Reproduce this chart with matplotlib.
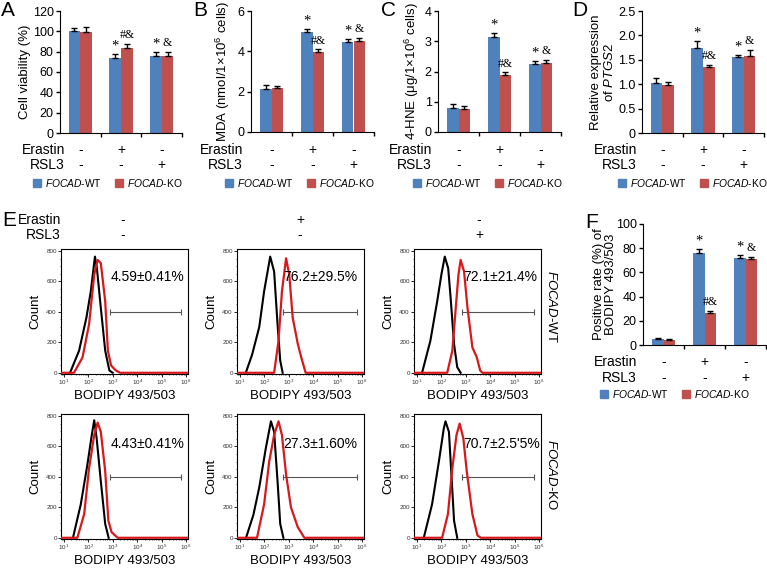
import matplotlib
matplotlib.use("Agg")
import matplotlib.pyplot as plt
from matplotlib.patches import Patch

plt.rcParams["font.family"] = ["Liberation Sans", "DejaVu Sans"]
plt.rcParams["mathtext.fontset"] = "custom"
plt.rcParams["mathtext.rm"] = "Liberation Sans"
plt.rcParams["mathtext.it"] = "Liberation Sans:italic"

W, H = 767, 569
BLUE = "#4F81BD"
RED = "#C0504D"

# conditions
erastin_signs = ["-", "+", "-"]
rsl3_signs = ["-", "-", "+"]
legend_labels = [r"$\it{FOCAD}$-WT", r"$\it{FOCAD}$-KO"]
marks_wt = ["", "*", "*"]
marks_ko = ["", "#&", "&"]

# A - cell viability
via_wt = [100.4, 73.6, 76.2]
via_wt_err = [3.3, 4.2, 3.3]
via_ko = [99.0, 83.4, 76.2]
via_ko_err = [5.0, 4.6, 3.8]

# B - MDA
mda_wt = [2.14, 4.94, 4.45]
mda_wt_err = [0.17, 0.15, 0.18]
mda_ko = [2.17, 3.99, 4.51]
mda_ko_err = [0.09, 0.11, 0.16]

# C - 4-HNE
hne_wt = [0.79, 3.13, 2.24]
hne_wt_err = [0.14, 0.13, 0.11]
hne_ko = [0.76, 1.88, 2.27]
hne_ko_err = [0.09, 0.09, 0.11]

# D - PTGS2
ptgs_wt = [1.02, 1.74, 1.55]
ptgs_wt_err = [0.10, 0.15, 0.04]
ptgs_ko = [0.99, 1.36, 1.57]
ptgs_ko_err = [0.05, 0.04, 0.13]

# F - BODIPY positive rate
pos_wt = [4.9, 75.9, 72.0]
pos_wt_err = [0.5, 3.6, 2.2]
pos_ko = [4.4, 26.8, 71.0]
pos_ko_err = [0.5, 1.7, 1.9]

# E - flow histograms, points as (log10 intensity, count)
wt_ctrl_black = [(1.25, 0), (1.62, 145), (1.92, 362), (2.10, 535), (2.27, 763), (2.35, 687),
                 (2.51, 427), (2.69, 145), (2.86, 15), (3.0, 0)]
wt_ctrl_red = [(0.88, 0), (1.41, 0), (1.76, 100), (2.03, 319), (2.24, 644), (2.38, 741), (2.51, 720),
               (2.69, 470), (2.80, 145), (2.93, 48), (3.13, 15), (3.3, 0), (6.08, 0)]
wt_era_black = [(1.24, 0), (1.5, 120), (1.79, 300), (1.99, 535), (2.24, 763), (2.40, 665),
                (2.54, 319), (2.65, 80), (2.75, 0)]
wt_era_red = [(0.88, 0), (2.40, 0), (2.58, 210), (2.72, 535), (2.89, 752), (3.02, 644), (3.16, 362),
              (3.37, 189), (3.51, 102), (3.69, 0), (6.08, 0)]
wt_rsl_black = [(1.21, 0), (1.55, 210), (1.83, 470), (2.0, 644), (2.14, 763), (2.28, 687),
                (2.38, 492), (2.52, 189), (2.65, 37), (2.79, 0)]
wt_rsl_red = [(0.88, 0), (2.24, 0), (2.45, 145), (2.59, 427), (2.70, 644), (2.79, 741), (2.93, 665),
              (3.07, 427), (3.27, 167), (3.45, 102), (3.59, 15), (3.68, 0), (6.08, 0)]
ko_ctrl_black = [(1.37, 0), (1.69, 220), (1.96, 480), (2.14, 675), (2.24, 772), (2.34, 653),
                 (2.51, 372), (2.69, 91), (2.83, 0)]
ko_ctrl_red = [(0.88, 0), (1.55, 0), (1.83, 156), (2.03, 458), (2.24, 675), (2.38, 757), (2.51, 696),
               (2.69, 437), (2.82, 112), (2.95, 37), (3.20, 0), (6.08, 0)]
ko_era_black = [(1.25, 0), (1.55, 150), (1.79, 330), (2.06, 588), (2.27, 765), (2.40, 696),
                (2.54, 372), (2.65, 91), (2.78, 0)]
ko_era_red = [(0.88, 0), (1.70, 0), (1.99, 220), (2.20, 502), (2.40, 675), (2.58, 765), (2.72, 675),
              (2.89, 415), (3.09, 199), (3.37, 69), (3.64, 0), (6.08, 0)]
ko_rsl_black = [(1.28, 0), (1.62, 220), (1.90, 502), (2.10, 718), (2.17, 765), (2.31, 696),
                (2.42, 393), (2.52, 112), (2.65, 0)]
ko_rsl_red = [(0.88, 0), (2.03, 0), (2.27, 156), (2.45, 458), (2.62, 675), (2.75, 750), (2.90, 653),
              (3.04, 437), (3.27, 156), (3.48, 15), (3.62, 0), (6.08, 0)]

pct_wt = ["4.59\u00b10.41%", "76.2\u00b129.5%", "72.1\u00b121.4%"]
pct_ko = ["4.43\u00b10.41%", "27.3\u00b11.60%", "70.7\u00b12.5'5%"]
gate_start = [2.9, 2.75, 2.85]
gate_end = 5.8
gate_level = 400


fig = plt.figure(figsize=(W / 100, H / 100), dpi=100)


def px_axes(l, t, r, b):
    return fig.add_axes([l / W, 1 - b / H, (r - l) / W, (b - t) / H])


def px_text(x, y, s, **kw):
    fig.text(x / W, 1 - y / H, s, **kw)


def bar_panel(box, wt, wt_err, ko, ko_err, ymax, yticks, yticklabels, ylabel, ylabel_x,
              lab_right, rows_y, legend_xy, letter, letter_xy):
    l, t, r, b = box
    ax = px_axes(l, t, r, b)
    x = list(range(3))
    bw = 0.29
    xw = [i - bw / 2 for i in x]
    xk = [i + bw / 2 for i in x]
    ax.bar(xw, wt, bw, color=BLUE, zorder=2)
    ax.bar(xk, ko, bw, color=RED, zorder=2)
    ax.errorbar(xw, wt, yerr=[[0] * 3, wt_err], fmt="none", ecolor="black",
                elinewidth=1, capsize=2.2, capthick=1, zorder=3)
    ax.errorbar(xk, ko, yerr=[[0] * 3, ko_err], fmt="none", ecolor="black",
                elinewidth=1, capsize=2.2, capthick=1, zorder=3)
    for i in x:
        if marks_wt[i]:
            ax.annotate(marks_wt[i], (xw[i], wt[i] + wt_err[i]), xytext=(0, 1),
                        textcoords="offset points", ha="center", va="bottom",
                        family="Liberation Serif", fontsize=10.5)
        if marks_ko[i]:
            ax.annotate(marks_ko[i], (xk[i], ko[i] + ko_err[i]), xytext=(0, 2),
                        textcoords="offset points", ha="center", va="bottom",
                        family="Liberation Serif", fontsize=8.5)
    ax.set_xlim(-0.5, 2.5)
    ax.set_ylim(0, ymax)
    ax.set_yticks(yticks)
    ax.set_yticklabels(yticklabels)
    ax.set_xticks([0.5, 1.5, 2.5])
    ax.set_xticklabels([])
    ax.tick_params(axis="both", direction="out", length=3, width=1, labelsize=9, pad=1.5)
    ax.spines["top"].set_visible(False)
    ax.spines["right"].set_visible(False)
    ax.set_ylabel(ylabel, fontsize=9.5, va="center", linespacing=1.1)
    ax.yaxis.set_label_coords(-(l - ylabel_x) / (r - l), 0.5)

    hpx = b - t
    tr = ax.get_xaxis_transform()
    for i in x:
        ax.text(i, -(rows_y[0] - b) / hpx, erastin_signs[i], transform=tr, ha="center",
                va="center", fontsize=10)
        ax.text(i, -(rows_y[1] - b) / hpx, rsl3_signs[i], transform=tr, ha="center",
                va="center", fontsize=10)
    px_text(lab_right, rows_y[0], "Erastin", ha="right", va="center", fontsize=10)
    px_text(lab_right, rows_y[1], "RSL3", ha="right", va="center", fontsize=10)

    handles = [Patch(color=BLUE), Patch(color=RED)]
    ax.legend(handles, legend_labels, ncol=2, loc="center left",
              bbox_to_anchor=(legend_xy[0] / W, 1 - legend_xy[1] / H),
              bbox_transform=fig.transFigure, frameon=False, fontsize=7.4,
              handlelength=0.8, handleheight=0.8, handletextpad=0.4,
              columnspacing=1.2, borderpad=0, borderaxespad=0)
    px_text(letter_xy[0], letter_xy[1], letter, ha="center", va="center", fontsize=15)
    return ax


bar_panel((60, 11, 182, 133), via_wt, via_wt_err, via_ko, via_ko_err, 120,
          [0, 20, 40, 60, 80, 100, 120], ["0", "20", "40", "60", "80", "100", "120"],
          "Cell viability (%)", 25, 65, (150, 165), (33, 183), "A", (8, 11))
bar_panel((251, 11, 374, 132), mda_wt, mda_wt_err, mda_ko, mda_ko_err, 6,
          [0, 2, 4, 6], ["0", "2", "4", "6"],
          r"MDA (nmol/1$\times$10$^6$ cells)", 223, 243, (150, 165), (225, 183), "B", (200, 11))
bar_panel((438, 11, 561, 132), hne_wt, hne_wt_err, hne_ko, hne_ko_err, 4,
          [0, 1, 2, 3, 4], ["0", "1", "2", "3", "4"],
          "4-HNE (\u03bcg/1$\\times$10$^6$ cells)", 412, 432, (150, 165), (413, 183), "C", (389, 11))
bar_panel((642, 11, 764, 133), ptgs_wt, ptgs_wt_err, ptgs_ko, ptgs_ko_err, 2.5,
          [0, 0.5, 1.0, 1.5, 2.0, 2.5], ["0", "0.5", "1.0", "1.5", "2.0", "2.5"],
          "Relative expression\nof $\\it{PTGS2}$", 603, 637, (150, 165), (618, 183), "D", (580, 11))
bar_panel((643, 224, 766, 345), pos_wt, pos_wt_err, pos_ko, pos_ko_err, 100,
          [0, 20, 40, 60, 80, 100], ["0", "20", "40", "60", "80", "100"],
          "Positive rate (%) of\nBODIPY 493/503", 605, 637, (362, 378), (600, 394), "F", (592, 222))

# E - histograms
px_text(9, 220, "E", ha="center", va="center", fontsize=15)
px_text(61, 220, "Erastin", ha="right", va="center", fontsize=10)
px_text(61, 235, "RSL3", ha="right", va="center", fontsize=10)

col_left = [61, 237, 414]
col_w = 127
rows = [(249, 374), (414, 539)]
curves = [[(wt_ctrl_black, wt_ctrl_red), (wt_era_black, wt_era_red), (wt_rsl_black, wt_rsl_red)],
          [(ko_ctrl_black, ko_ctrl_red), (ko_era_black, ko_era_red), (ko_rsl_black, ko_rsl_red)]]
pcts = [pct_wt, pct_ko]
pct_y = [630, 616]

for ri, (t, b) in enumerate(rows):
    for ci, l in enumerate(col_left):
        ax = px_axes(l, t, l + col_w, b)
        blk, red = curves[ri][ci]
        ax.plot([10 ** p[0] for p in blk], [p[1] for p in blk], color="black", lw=1.5, zorder=2)
        ax.plot([10 ** p[0] for p in red], [p[1] for p in red], color="#D7191C", lw=1.6, zorder=3)
        ax.plot([10 ** gate_start[ci], 10 ** gate_end], [gate_level, gate_level],
                color="#555555", lw=0.8, marker="|", markersize=4, markeredgewidth=0.8)
        ax.text(10 ** (gate_start[ci] + 0.03), pct_y[ri], pcts[ri][ci], ha="left", va="center",
                fontsize=10)
        ax.set_xscale("log")
        ax.set_xlim(10 ** 0.88, 10 ** 6.08)
        ax.set_ylim(-8, 813)
        ax.set_xticks([10 ** k for k in range(1, 7)])
        ax.set_yticks([0, 200, 400, 600, 800])
        ax.set_yticks(range(0, 801, 50), minor=True)
        ax.tick_params(axis="both", which="major", direction="out", length=2, width=0.6,
                       labelsize=4.5, pad=1, labelcolor="#333333")
        ax.tick_params(axis="both", which="minor", direction="out", length=1, width=0.4)
        for s in ax.spines.values():
            s.set_linewidth(0.8)
        ax.set_ylabel("Count", fontsize=9.5, va="center")
        ax.yaxis.set_label_coords(-26 / col_w, 0.5)
        ax.set_xlabel("BODIPY 493/503", fontsize=9.5, va="center")
        ax.xaxis.set_label_coords(0.5, -22 / (b - t))

sign_x = [123, 300, 479]
for ci in range(3):
    px_text(sign_x[ci], 220, erastin_signs[ci], ha="center", va="center", fontsize=10)
    px_text(sign_x[ci], 235, rsl3_signs[ci], ha="center", va="center", fontsize=10)

px_text(552, 307, r"$\it{FOCAD}$-WT", rotation=270, ha="center", va="center", fontsize=9.5)
px_text(552, 475, r"$\it{FOCAD}$-KO", rotation=270, ha="center", va="center", fontsize=9.5)

fig.savefig("out.png", dpi=100)
